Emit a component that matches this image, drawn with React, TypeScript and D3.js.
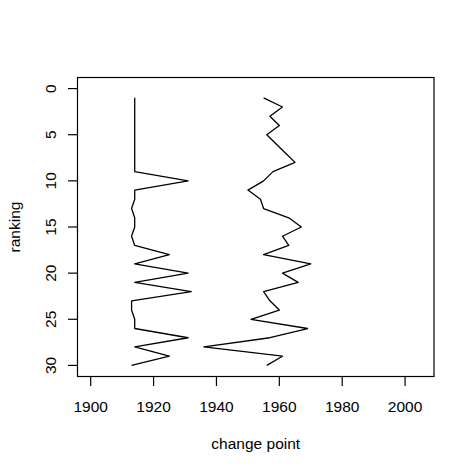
import React from "react";
import * as d3 from "d3";

const ranking = d3.range(1, 31);
const seriesA = [1914,1914,1914,1914,1914,1914,1914,1914,1914,1931,1914,1914,1913,1914,1914,1913,1914,1925,1914,1931,1914,1932,1913,1913,1914,1914,1931,1914,1925,1913];
const seriesB = [1955,1961,1957,1960,1956,1959,1962,1965,1958,1955,1950,1954,1955,1963,1967,1961,1963,1955,1970,1961,1966,1955,1957,1960,1951,1969,1957,1936,1961,1956];
const xTicks = [1900, 1920, 1940, 1960, 1980, 2000];
const yTicks = [0, 5, 10, 15, 20, 25, 30];
const xlim = [1900, 2005];
const ylim = [0, 30];

export default function App() {
  const W = 474, H = 474;
  const left = 77.5, right = 434, top = 77.5, bottom = 376.5;
  const ext = (l: number[]) => {
    const r = l[1] - l[0];
    return [l[0] - 0.04 * r, l[1] + 0.04 * r];
  };
  const x = d3.scaleLinear().domain(ext(xlim)).range([left, right]);
  const y = d3.scaleLinear().domain(ext(ylim)).range([top, bottom]);
  const line = d3.line<[number, number]>().x(d => x(d[0])).y(d => y(d[1]));
  const font = "'Liberation Sans', Arial, Helvetica, sans-serif";
  const fs = 15.5;
  return (
    <svg width={W} height={H} style={{ position: "absolute", left: 0, top: 0, background: "#fff" }}>
      <rect x={0} y={0} width={W} height={H} fill="#fff" />
      <rect x={left} y={top} width={right - left} height={bottom - top} fill="none" stroke="#000" strokeWidth={1.2} />
      {[seriesA, seriesB].map((s, i) => (
        <path key={i} d={line(s.map((v, j) => [v, ranking[j]] as [number, number])) || ""} fill="none" stroke="#000" strokeWidth={1.3} strokeLinejoin="round" />
      ))}
      {xTicks.map(t => (
        <g key={t}>
          <line x1={x(t)} x2={x(t)} y1={bottom} y2={bottom + 9.5} stroke="#000" strokeWidth={1.2} />
          <text x={x(t)} y={412} textAnchor="middle" fontFamily={font} fontSize={fs} fill="#000">{t}</text>
        </g>
      ))}
      {yTicks.map(t => (
        <g key={t}>
          <line x1={left - 9.5} x2={left} y1={y(t)} y2={y(t)} stroke="#000" strokeWidth={1.2} />
          <text transform={`translate(55.5,${y(t)}) rotate(-90)`} textAnchor="middle" fontFamily={font} fontSize={fs} fill="#000">{t}</text>
        </g>
      ))}
      <text x={(left + right) / 2} y={449} textAnchor="middle" fontFamily={font} fontSize={fs} fill="#000">change point</text>
      <text transform={`translate(20,${(top + bottom) / 2}) rotate(-90)`} textAnchor="middle" fontFamily={font} fontSize={fs} fill="#000">ranking</text>
    </svg>
  );
}
